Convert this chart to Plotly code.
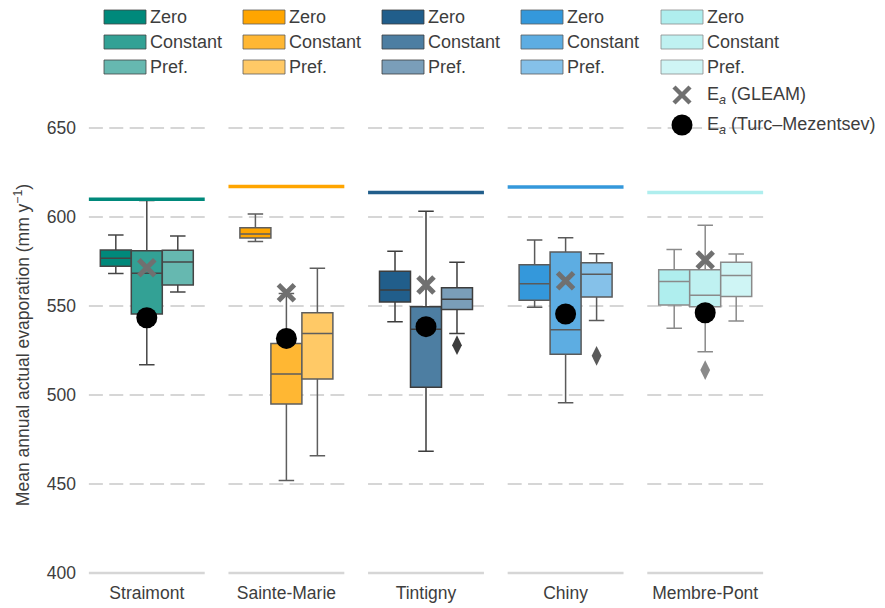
import plotly.graph_objects as go

# ---------------- data ----------------
sites = ["Straimont", "Sainte-Marie", "Tintigny", "Chiny", "Membre-Pont"]
methods = ["Zero", "Constant", "Pref."]

# box statistics per method (one value per site)
zero_low = [568.2, 586.3, 541.2, 549.3, 537.5]
zero_q1 = [572.3, 588.2, 552.2, 553.2, 550.6]
zero_med = [576.8, 590.4, 559.0, 562.5, 563.7]
zero_q3 = [581.5, 594.0, 569.5, 573.2, 570.4]
zero_high = [589.9, 601.7, 580.7, 587.1, 581.7]

const_low = [517.0, 451.9, 468.4, 495.7, 524.3]
const_q1 = [545.5, 495.0, 504.3, 522.9, 549.6]
const_med = [568.4, 511.8, 536.9, 536.7, 556.0]
const_q3 = [581.1, 529.0, 549.6, 580.3, 570.4]
const_high = [609.2, 557.0, 603.2, 588.4, 595.3]

pref_low = [557.9, 465.9, 534.5, 541.8, 541.6]
pref_q1 = [561.8, 509.0, 548.1, 555.1, 555.4]
pref_med = [574.7, 534.6, 553.8, 567.8, 567.2]
pref_q3 = [581.3, 546.2, 560.3, 574.3, 574.6]
pref_high = [589.3, 571.2, 574.6, 579.4, 579.2]

# outliers: (site index, method index, value)
outlier_site = [2, 3, 4]
outlier_method = [2, 2, 1]
outlier_value = [528.0, 522.0, 514.0]

gleam = [571.5, 557.5, 561.8, 564.2, 575.8]
turc_mezentsev = [543.4, 531.8, 538.4, 545.5, 546.2]
reference_level = [610.0, 617.2, 613.7, 616.9, 613.7]

y_ticks = [400, 450, 500, 550, 600, 650]

# ---------------- styles ----------------
site_colors = [
    ["#00897B", "#33A195", "#66B8B0"],
    ["#FFA500", "#FFB733", "#FFC966"],
    ["#215E8B", "#4D7EA2", "#7A9EB9"],
    ["#3498DB", "#5DADE2", "#85C1E9"],
    ["#AFEEEE", "#BFF1F1", "#CFF5F5"],
]
site_grays = ["#454545", "#5e5e5e", "#3d3d3d", "#5a5a5a", "#8a8a8a"]
FONT = "Liberation Sans, Arial, sans-serif"
TXT = "#3d3d3d"
FS = 17.5
FS_LEG = 18

OFF = 8  # page body margin
W, H = 885 - OFF, 608 - OFF
ML, MR, MT, MB = 77 - OFF, 110, 110 - OFF, 28
PW = W - ML - MR
PH = H - MT - MB


def pxx(px):  # screen px -> paper
    return (px - OFF - ML) / PW


def pxy(py):
    return (H - MB - (py - OFF)) / PH


offsets = [-0.222, 0.0, 0.222]
box_w = 0.222
half = 0.415

stats = [
    (zero_low, zero_q1, zero_med, zero_q3, zero_high),
    (const_low, const_q1, const_med, const_q3, const_high),
    (pref_low, pref_q1, pref_med, pref_q3, pref_high),
]

fig = go.Figure()
shapes = []
annotations = []

# per-category grid segments
for i in range(len(sites)):
    for g in y_ticks:
        if g == 400:
            shapes.append(dict(type="line", xref="x", yref="y", x0=i - half, x1=i + half,
                               y0=g, y1=g, layer="below",
                               line=dict(color="#d6d6d6", width=2.5)))
        else:
            shapes.append(dict(type="line", xref="x", yref="y", x0=i - half, x1=i + half,
                               y0=g, y1=g, layer="below",
                               line=dict(color="#d6d6d6", width=2, dash="14px,6.4px")))

# boxes
for m in range(len(methods)):
    lo, q1, md, q3, hi = stats[m]
    for i in range(len(sites)):
        fig.add_trace(go.Box(
            x=[i + offsets[m]], q1=[q1[i]], median=[md[i]], q3=[q3[i]],
            lowerfence=[lo[i]], upperfence=[hi[i]],
            width=box_w, whiskerwidth=0.5, boxpoints=False,
            fillcolor=site_colors[i][m],
            line=dict(color=site_grays[i], width=1.5),
            showlegend=False, hoverinfo="skip",
        ))

# reference lines at top
for i in range(len(sites)):
    fig.add_trace(go.Scatter(
        x=[i - half, i + half], y=[reference_level[i]] * 2, mode="lines",
        line=dict(color=site_colors[i][0], width=3.5), showlegend=False, hoverinfo="skip"))

# outliers
for s, m, v in zip(outlier_site, outlier_method, outlier_value):
    fig.add_trace(go.Scatter(
        x=[s + offsets[m]], y=[v], mode="markers",
        marker=dict(symbol="diamond-tall", size=14, color=site_grays[s], line=dict(width=0)),
        showlegend=False, hoverinfo="skip"))

# GLEAM
fig.add_trace(go.Scatter(
    x=list(range(len(sites))), y=gleam, mode="markers",
    marker=dict(symbol="x-thin", size=16, line=dict(color="#707070", width=5)),
    showlegend=False, hoverinfo="skip"))
# Turc-Mezentsev
fig.add_trace(go.Scatter(
    x=list(range(len(sites))), y=turc_mezentsev, mode="markers",
    marker=dict(symbol="circle", size=21, color="black", line=dict(width=0)),
    showlegend=False, hoverinfo="skip"))

# ---------------- manual legend (screen pixel positions) ----------------
col_left = [104, 243, 382, 521, 661]
row_y = [17, 42, 67]
sw_w, sw_h = 42, 14
for i in range(len(sites)):
    for m in range(len(methods)):
        x0 = col_left[i]
        yc = row_y[m]
        shapes.append(dict(type="rect", xref="paper", yref="paper",
                           x0=pxx(x0), x1=pxx(x0 + sw_w),
                           y0=pxy(yc + sw_h / 2), y1=pxy(yc - sw_h / 2),
                           fillcolor=site_colors[i][m],
                           line=dict(color=site_grays[i], width=0.8)))
        annotations.append(dict(xref="paper", yref="paper", x=pxx(x0 + sw_w + 2), y=pxy(yc),
                                text=methods[m], showarrow=False, xanchor="left", yanchor="middle",
                                font=dict(family=FONT, size=FS_LEG, color=TXT)))

mx = col_left[4] + sw_w / 2
gy, ty = 95, 125
d = 8
shapes.append(dict(type="line", xref="paper", yref="paper",
                   x0=pxx(mx - d), x1=pxx(mx + d), y0=pxy(gy - d), y1=pxy(gy + d),
                   line=dict(color="#707070", width=4.5)))
shapes.append(dict(type="line", xref="paper", yref="paper",
                   x0=pxx(mx - d), x1=pxx(mx + d), y0=pxy(gy + d), y1=pxy(gy - d),
                   line=dict(color="#707070", width=4.5)))
r = 10.5
shapes.append(dict(type="circle", xref="paper", yref="paper",
                   x0=pxx(mx - r), x1=pxx(mx + r), y0=pxy(ty + r), y1=pxy(ty - r),
                   fillcolor="black", line=dict(width=0)))
annotations.append(dict(xref="paper", yref="paper", x=pxx(col_left[4] + sw_w + 2), y=pxy(gy),
                        text="E<sub><i>a</i></sub> (GLEAM)", showarrow=False,
                        xanchor="left", yanchor="middle",
                        font=dict(family=FONT, size=FS_LEG, color=TXT)))
annotations.append(dict(xref="paper", yref="paper", x=pxx(col_left[4] + sw_w + 2), y=pxy(ty),
                        text="E<sub><i>a</i></sub> (Turc–Mezentsev)", showarrow=False,
                        xanchor="left", yanchor="middle",
                        font=dict(family=FONT, size=FS_LEG, color=TXT)))

y_lo = 400 - 7 / 1.78
y_hi = 650 + 18 / 1.78

fig.update_layout(
    width=W, height=H,
    margin=dict(l=ML, r=MR, t=MT, b=MB, autoexpand=False),
    paper_bgcolor="white", plot_bgcolor="white",
    boxmode="overlay",
    font=dict(family=FONT, size=FS, color=TXT),
    shapes=shapes, annotations=annotations,
    xaxis=dict(range=[-0.5, 4.5], tickvals=list(range(len(sites))), ticktext=sites,
               showgrid=False, zeroline=False, showline=False, ticks="",
               tickfont=dict(family=FONT, size=FS, color=TXT)),
    yaxis=dict(range=[y_lo, y_hi], tickvals=y_ticks, showgrid=False, zeroline=False,
               showline=False, ticks="",
               tickfont=dict(family=FONT, size=FS, color=TXT),
               title=dict(text="Mean annual actual evaporation (mm y<sup>−1</sup>)",
                          font=dict(family=FONT, size=FS, color=TXT), standoff=12)),
)

fig.write_html("out.html")
